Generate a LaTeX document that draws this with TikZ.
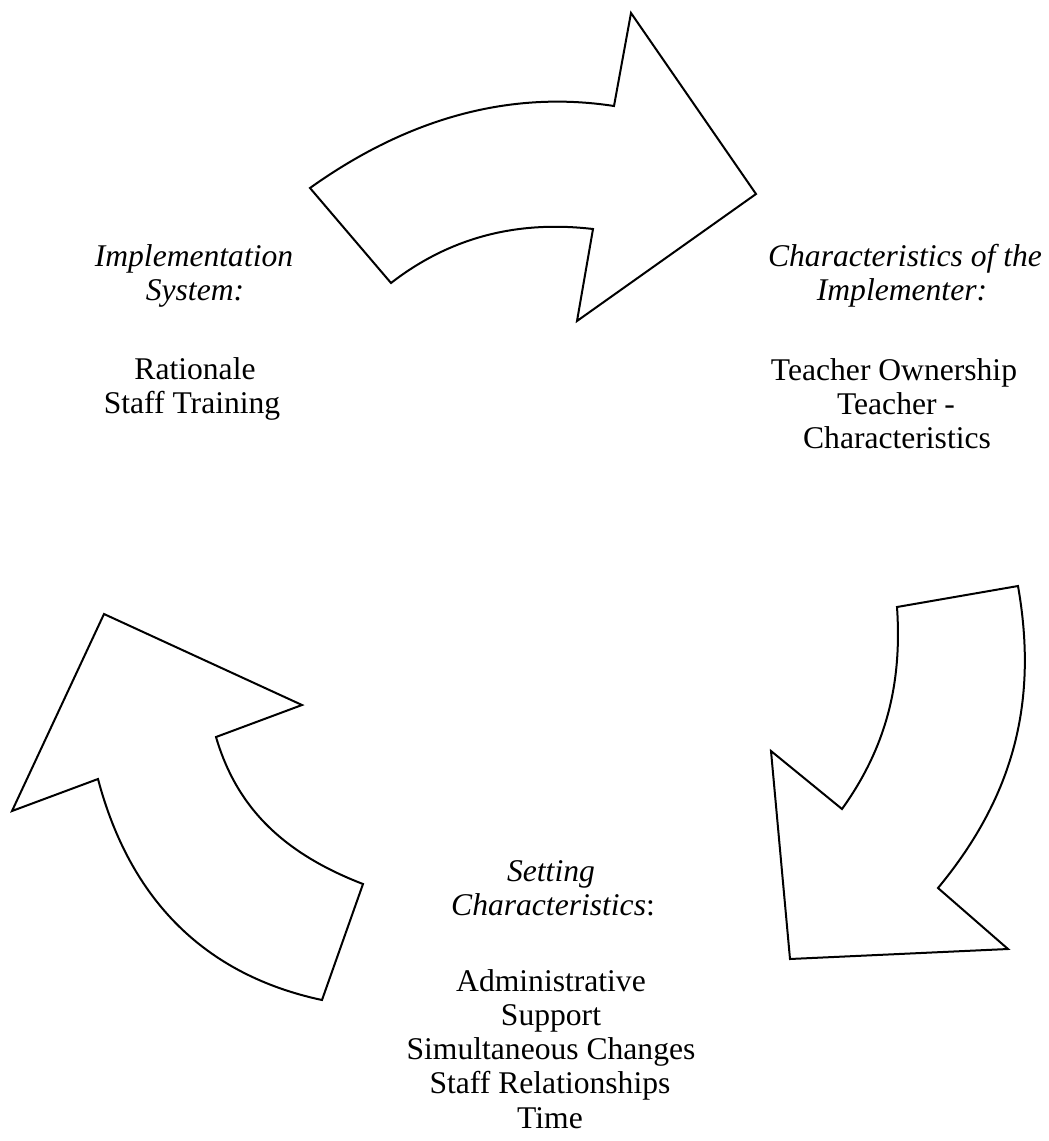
\documentclass[tikz,border=0pt]{standalone}
\usepackage{fontspec}
\setmainfont{Liberation Serif}
\begin{document}
\begin{tikzpicture}[x=0.5pt,y=-0.5pt,
  arrowshape/.style={draw=black,line width=1pt,line join=miter},
  lbl/.style={anchor=base,inner sep=0pt,font=\fontsize{15.8}{17}\selectfont},
  hdr/.style={anchor=base,inner sep=0pt,font=\fontsize{15.8}{17}\selectfont\itshape}]
\useasboundingbox (0,0) rectangle (1049,1141);

% arrows
\draw[arrowshape] (310,188) -- (391,283) .. controls (449,238) and (516,220) .. (593,229)
  -- (577,321) -- (756,194) -- (631,13) -- (614,106) .. controls (510,90) and (408,118) .. cycle;
\draw[arrowshape] (1018,586) -- (897,607) .. controls (902,680) and (888,745) .. (842,809)
  -- (771,751) -- (790,959) -- (1008,949) -- (938,888) .. controls (1015,795) and (1038,700) .. cycle;
\draw[arrowshape] (104,614) -- (302,705) -- (216,737) .. controls (236,805) and (280,852) .. (363,884)
  -- (322,1000) .. controls (205,975) and (130,900) .. (98,779) -- (12,811) -- cycle;

% left block
\node[hdr] (is1) at (194,266) {Implementation};
\node[hdr] (is2) at (195,300) {System:};
\node[lbl] (is3) at (195,379) {Rationale};
\node[lbl] (is4) at (192,413) {Staff Training};

% right block
\node[hdr] (ci1) at (905,266) {Characteristics of the};
\node[hdr] (ci2) at (902,300) {Implementer:};
\node[lbl] (ci3) at (894,380) {Teacher Ownership};
\node[lbl] (ci4) at (896,414) {Teacher -};
\node[lbl] (ci5) at (897,448) {Characteristics};

% bottom block
\node[hdr] (sc1) at (551,881) {Setting};
\node[lbl] (sc2) at (553,915) {\textit{Characteristics}:};
\node[lbl] (sc3) at (551,991) {Administrative};
\node[lbl] (sc4) at (551,1025) {Support};
\node[lbl] (sc5) at (551,1059) {Simultaneous Changes};
\node[lbl] (sc6) at (550,1093) {Staff Relationships};
\node[lbl] (sc7) at (550,1128) {Time};
\end{tikzpicture}
\end{document}
